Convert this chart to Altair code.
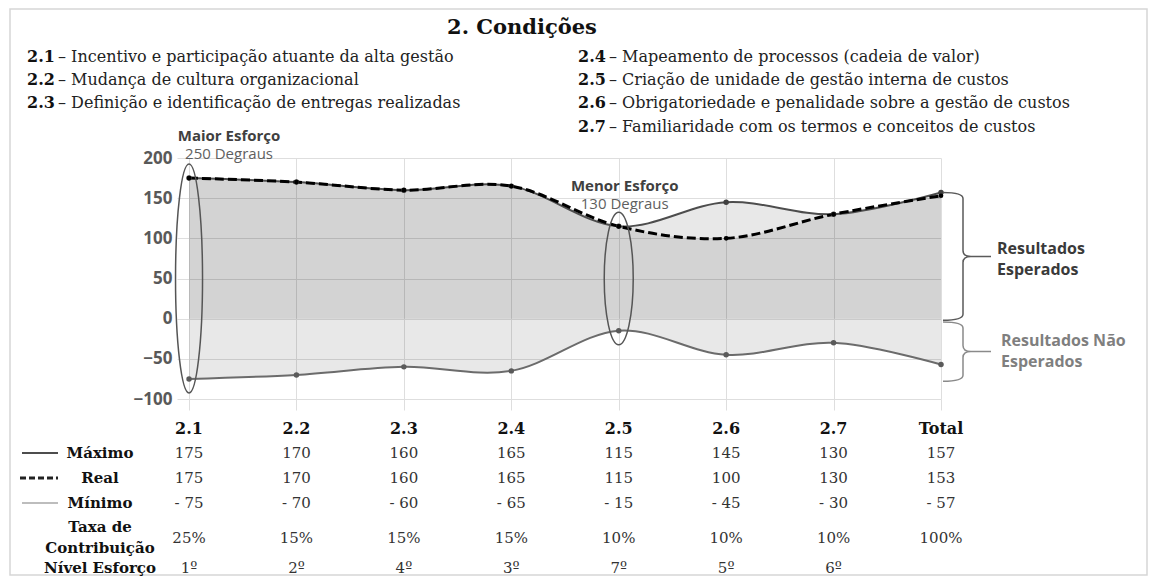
import altair as alt
import pandas as pd

# ---------------- data ----------------
categories = ["2.1", "2.2", "2.3", "2.4", "2.5", "2.6", "2.7", "Total"]
maximo = [175, 170, 160, 165, 115, 145, 130, 157]
real = [175, 170, 160, 165, 115, 100, 130, 153]
minimo = [-75, -70, -60, -65, -15, -45, -30, -57]
taxa = ["25%", "15%", "15%", "15%", "10%", "10%", "10%", "100%"]
nivel = ["1º", "2º", "4º", "3º", "7º", "5º", "6º", ""]

title_text = "2. Condições"
cond_nums = ["2.1", "2.2", "2.3", "2.4", "2.5", "2.6", "2.7"]
cond_texts = [
    "– Incentivo e participação atuante da alta gestão",
    "– Mudança de cultura organizacional",
    "– Definição e identificação de entregas realizadas",
    "– Mapeamento de processos (cadeia de valor)",
    "– Criação de unidade de gestão interna de custos",
    "– Obrigatoriedade e penalidade sobre a gestão de custos",
    "– Familiaridade com os termos e conceitos de custos",
]
brace_labels = [["Resultados", "Esperados"], ["Resultados Não", "Esperados"]]
brace_spans = [[157, -2], [-4, -78]]

# ---------------- layout ----------------
W, H = 764, 241
PL, PT, PR, PB = 169, 150, 208, 177
Y_MIN, Y_MAX = -100, 200
PPU = H / (Y_MAX - Y_MIN)
X_DOMAIN = [-0.112, 7]
SERIF = "DejaVu Serif"
SANS = "Open Sans"
GRID = "#dedede"

idx = list(range(len(categories)))
df = pd.DataFrame({"idx": idx, "cat": categories, "maximo": maximo,
                   "real": real, "minimo": minimo})

xscale = alt.Scale(domain=X_DOMAIN, nice=False, zero=False)
xaxis = alt.Axis(values=idx, grid=True, gridColor=GRID, ticks=True, tickSize=11,
                 tickColor=GRID, labels=False, domain=False, title=None)
yscale = alt.Scale(domain=[Y_MIN, Y_MAX], nice=False, zero=False)
yaxis = alt.Axis(values=[-100, -50, 0, 50, 100, 150, 200], grid=True, gridColor=GRID,
                 ticks=False, domain=False, labelFont=SANS, labelFontSize=17,
                 labelFontWeight="bold", labelColor="#595959", labelPadding=5, title=None)

X = alt.X("idx:Q", scale=xscale, axis=xaxis)


def Y(field):
    return alt.Y(f"{field}:Q", scale=yscale, axis=yaxis)


base = alt.Chart(df)
area_light = base.mark_area(interpolate="cardinal", color="#000000", opacity=0.09).encode(
    x=X, y=Y("maximo"), y2="minimo:Q")
area_dark = base.mark_area(interpolate="cardinal", color="#000000", opacity=0.09).encode(
    x=X, y=Y("real"), y2=alt.datum(0))

line_min = base.mark_line(interpolate="cardinal", color="#6b6b6b", strokeWidth=2).encode(x=X, y=Y("minimo"))
line_max = base.mark_line(interpolate="cardinal", color="#4d4d4d", strokeWidth=2).encode(x=X, y=Y("maximo"))
line_real = base.mark_line(interpolate="cardinal", color="#000000", strokeWidth=3,
                           strokeDash=[9, 4]).encode(x=X, y=Y("real"))
pts_min = base.mark_circle(size=30, color="#5a5a5a", opacity=1).encode(x=X, y=Y("minimo"))
pts_max = base.mark_circle(size=30, color="#404040", opacity=1).encode(x=X, y=Y("maximo"))
pts_real = base.mark_circle(size=22, color="#000000", opacity=1).encode(x=X, y=Y("real"))


# ---------------- ellipses (largest / smallest effort) ----------------
def ellipse_path(r):
    k = 0.5523
    a, b = k * r, r
    return (f"M0,-1C{a:.4f},-1 {b:.4f},-{k} {b:.4f},0C{b:.4f},{k} {a:.4f},1 0,1"
            f"C{-a:.4f},1 {-b:.4f},{k} {-b:.4f},0C{-b:.4f},-{k} {-a:.4f},-1 0,-1Z")


ranges = [mx - mn for mx, mn in zip(maximo, minimo)]
core = ranges[:-1]
i_big = core.index(max(core))
i_small = core.index(min(core))
ell_rows = []
for i, wpx in ((i_big, 27), (i_small, 29)):
    hpx = ranges[i] * PPU + 28
    ell_rows.append({"idx": i, "center": (maximo[i] + minimo[i]) / 2,
                     "path": ellipse_path(wpx / hpx), "size": hpx * hpx})
ellipses = alt.Chart(pd.DataFrame(ell_rows)).mark_point(
    filled=False, stroke="#555555", strokeWidth=1.5, opacity=1).encode(
    x=X, y=Y("center"), shape=alt.Shape("path:N", scale=None),
    size=alt.Size("size:Q", scale=None))

ann = []
for i, head, dx, y1 in ((i_big, "Maior Esforço", 40, -22), (i_small, "Menor Esforço", 6, 28)):
    d = pd.DataFrame({"idx": [i], "t1": [head], "t2": [f"{ranges[i]} Degraus"]})
    ann.append(alt.Chart(d).mark_text(font=SANS, fontSize=15, fontWeight="bold", color="#404040",
                                      dx=dx).encode(x=X, y=alt.value(y1), text="t1:N"))
    ann.append(alt.Chart(d).mark_text(font=SANS, fontSize=15, color="#5f5f5f",
                                      dx=dx).encode(x=X, y=alt.value(y1 + 18), text="t2:N"))


# ---------------- braces on the right ----------------
def brace_path(hpx):
    h = hpx / 2.0
    r = 6.0

    def p(x, y):
        return f"{x / h:.4f},{y / h:.4f}"
    return (f"M{p(-24, -h)}Q{p(-4, -h)} {p(-4, -h + r)}L{p(-4, -r)}Q{p(-4, 0)} {p(4, 0)}"
            f"L{p(24, 0)}M{p(4, 0)}Q{p(-4, 0)} {p(-4, r)}L{p(-4, h - r)}Q{p(-4, h)} {p(-24, h)}")


br_rows = []
for (top, bot), col in zip(brace_spans, ["#5a5a5a", "#8a8a8a"]):
    hpx = (top - bot) * PPU
    br_rows.append({"center": (top + bot) / 2, "path": brace_path(hpx), "size": hpx * hpx, "col": col})
braces = alt.Chart(pd.DataFrame(br_rows)).mark_point(filled=False, strokeWidth=1.5, opacity=1).encode(
    x=alt.value(790), y=Y("center"), shape=alt.Shape("path:N", scale=None),
    size=alt.Size("size:Q", scale=None), stroke=alt.Stroke("col:N", scale=None))

brace_text = []
for (l1, l2), xx, yy, col in zip(brace_labels, [820, 824], [91, 183], ["#3a3a3a", "#7f7f7f"]):
    for k, t in enumerate([l1, l2]):
        brace_text.append(alt.Chart(pd.DataFrame({"t": [t]})).mark_text(
            font=SANS, fontSize=16, fontWeight="bold", color=col, align="left").encode(
            x=alt.value(xx), y=alt.value(yy + 21 * k), text="t:N"))

# ---------------- header texts ----------------
top_text = [alt.Chart(pd.DataFrame({"t": [title_text]})).mark_text(
    font=SERIF, fontSize=21, fontWeight="bold", color="#111111").encode(
    x=alt.value(345), y=alt.value(-130), text="t:N")]
col_x = [-150, -150, -150, 401, 401, 401, 401]
col_y = [-101, -78, -55, -101, -78, -55, -31]
for n, t, xx, yy in zip(cond_nums, cond_texts, col_x, col_y):
    top_text.append(alt.Chart(pd.DataFrame({"t": [n]})).mark_text(
        font=SERIF, fontSize=16, fontWeight="bold", color="#111111", align="left").encode(
        x=alt.value(xx), y=alt.value(yy), text="t:N"))
    top_text.append(alt.Chart(pd.DataFrame({"t": [t]})).mark_text(
        font=SERIF, fontSize=16, color="#222222", align="left").encode(
        x=alt.value(xx + 31), y=alt.value(yy), text="t:N"))


# ---------------- table ----------------
def fmt(v):
    return f"- {abs(v)}" if v < 0 else str(v)


def row(values, ypx, bold=False, size=15, color="#333333"):
    d = pd.DataFrame({"idx": idx, "t": values})
    return alt.Chart(d).mark_text(font=SERIF, fontSize=size,
                                  fontWeight="bold" if bold else "normal", color=color).encode(
        x=X, y=alt.value(ypx), text="t:N")


table = [
    row(categories, 271, bold=True, size=16, color="#111111"),
    row([fmt(v) for v in maximo], 295),
    row([fmt(v) for v in real], 320),
    row([fmt(v) for v in minimo], 345),
    row(taxa, 380),
    row(nivel, 410),
]
row_label_specs = [("Máximo", 295), ("Real", 320), ("Mínimo", 345),
                   ("Taxa de", 369), ("Contribuição", 390), ("Nível Esforço", 410)]
for t, yy in row_label_specs:
    table.append(alt.Chart(pd.DataFrame({"t": [t]})).mark_text(
        font=SERIF, fontSize=15, fontWeight="bold", color="#111111").encode(
        x=alt.value(-77), y=alt.value(yy), text="t:N"))

one = pd.DataFrame({"a": [0]})
legend_lines = [
    alt.Chart(one).mark_rule(color="#4d4d4d", strokeWidth=2).encode(
        x=alt.value(-155), x2=alt.value(-119), y=alt.value(295)),
    alt.Chart(one).mark_rule(color="#222222", strokeWidth=3, strokeDash=[6, 3]).encode(
        x=alt.value(-157), x2=alt.value(-119), y=alt.value(320)),
    alt.Chart(one).mark_rule(color="#bdbdbd", strokeWidth=2).encode(
        x=alt.value(-155), x2=alt.value(-119), y=alt.value(345)),
]

frame = alt.Chart(one).mark_rect(fill=None, stroke="#d6d6d6", strokeWidth=1.5).encode(
    x=alt.value(-167), x2=alt.value(970), y=alt.value(-149), y2=alt.value(417))

chart = alt.layer(
    frame, area_light, area_dark, line_min, line_max, line_real,
    pts_min, pts_max, pts_real, ellipses, braces,
    *ann, *brace_text, *top_text, *table, *legend_lines,
).properties(
    width=W, height=H,
    padding={"left": PL, "top": PT, "right": PR, "bottom": PB},
    autosize=alt.AutoSizeParams(type="none"),
).configure_view(stroke=None)

chart.save("out.html", embed_options={"renderer": "svg", "actions": False})
